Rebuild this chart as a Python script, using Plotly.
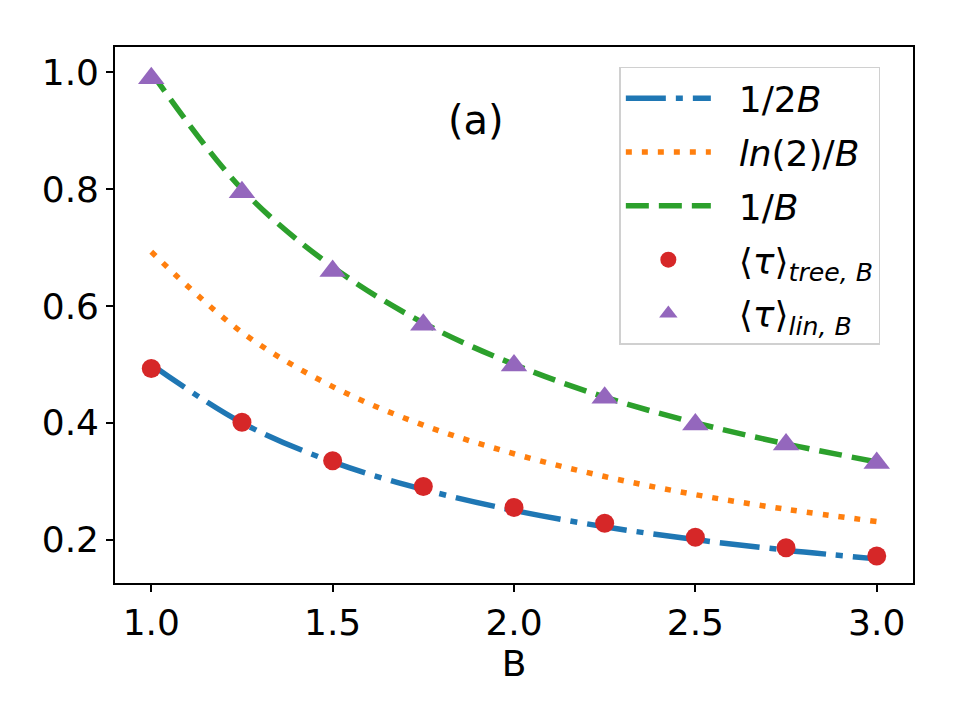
import plotly.graph_objects as go

B = [1.0, 1.25, 1.5, 1.75, 2.0, 2.25, 2.5, 2.75, 3.0]
half_inv = [0.500, 0.400, 0.333, 0.286, 0.250, 0.222, 0.200, 0.182, 0.167]
ln2_inv = [0.693, 0.555, 0.462, 0.396, 0.347, 0.308, 0.277, 0.252, 0.231]
inv = [1.000, 0.800, 0.667, 0.571, 0.500, 0.444, 0.400, 0.364, 0.333]
tau_tree = [0.493, 0.401, 0.335, 0.291, 0.255, 0.228, 0.204, 0.186, 0.172]
tau_lin = [0.990, 0.795, 0.660, 0.568, 0.498, 0.443, 0.397, 0.363, 0.331]

FONT = "DejaVu Sans"
FS = 36
PAD = "\u00a0\u00a0"

fig = go.Figure()
fig.add_trace(go.Scatter(x=B, y=half_inv, mode="lines", name=PAD + "1/2<i>B</i>", legendgroup="a",
                         line=dict(color="#1f77b4", width=5.5, dash="40px,10px,7px,10px", shape="spline")))
fig.add_trace(go.Scatter(x=B, y=ln2_inv, mode="lines", name=PAD + "<i>ln</i>(2)/<i>B</i>", legendgroup="b",
                         line=dict(color="#ff7f0e", width=5.5, dash="6px,10px", shape="spline")))
fig.add_trace(go.Scatter(x=B, y=inv, mode="lines", name=PAD + "1/<i>B</i>", legendgroup="c",
                         line=dict(color="#2ca02c", width=5.5, dash="23px,10px", shape="spline")))
fig.add_trace(go.Scatter(x=B, y=tau_tree, mode="markers", name=PAD + "⟨<i>τ</i>⟩<sub><i>tree, B</i></sub>",
                         legendgroup="d",
                         marker=dict(color="#d62728", size=19, symbol="circle", line=dict(width=0))))
fig.add_trace(go.Scatter(x=B, y=tau_lin, mode="markers", name=PAD + "⟨<i>τ</i>⟩<sub><i>lin, B</i></sub>",
                         legendgroup="e",
                         marker=dict(color="#9467bd", size=23, symbol="triangle-up", line=dict(width=0))))

axis_common = dict(showgrid=False, zeroline=False, showline=True, linecolor="black", linewidth=1.6,
                   mirror=True, ticks="outside", ticklen=7, tickwidth=1.6, tickcolor="black",
                   tickfont=dict(family=FONT, size=FS, color="black"))

fig.update_xaxes(range=[0.9, 3.1], tickvals=[1.0, 1.5, 2.0, 2.5, 3.0],
                 ticktext=["1.0", "1.5", "2.0", "2.5", "3.0"],
                 title=dict(text="B", font=dict(family=FONT, size=FS, color="black"), standoff=6),
                 **axis_common)
fig.update_yaxes(range=[0.1257, 1.0435], tickvals=[0.2, 0.4, 0.6, 0.8, 1.0],
                 ticktext=["0.2", "0.4", "0.6", "0.8", "1.0"], **axis_common)

fig.add_annotation(text="(a)", x=0.452, y=0.91, xref="paper", yref="paper", showarrow=False,
                   font=dict(family=FONT, size=40, color="black"))

fig.update_layout(
    width=960, height=720,
    margin=dict(l=115, r=47, t=47, b=137),
    plot_bgcolor="white", paper_bgcolor="white",
    font=dict(family=FONT, size=FS, color="black"),
    legend=dict(x=0.632, y=0.963, xanchor="left", yanchor="top", bgcolor="white",
                bordercolor="#d0d0d0", borderwidth=1.5, itemwidth=85, tracegroupgap=4,
                font=dict(family=FONT, size=FS, color="black")),
)

fig.write_html("out.html")
